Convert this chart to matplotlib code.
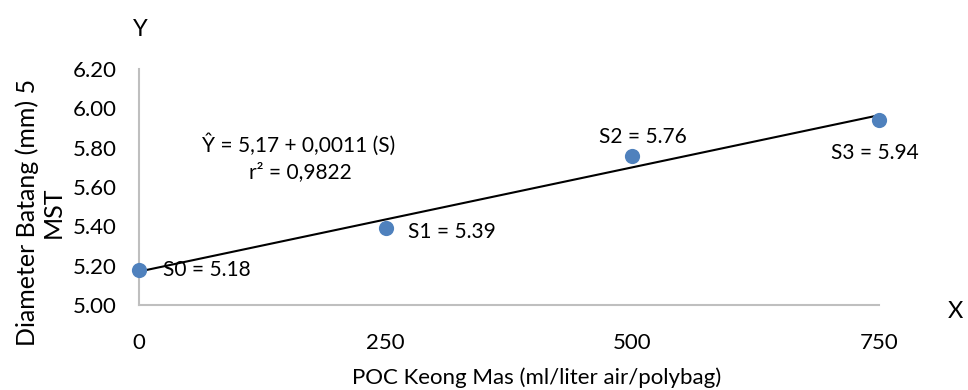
import numpy as np
import matplotlib
matplotlib.use("Agg")
import matplotlib.pyplot as plt

# --- data ---
dose = [0, 250, 500, 750]                 # POC Keong Mas, ml/liter air/polybag
diameter = [5.18, 5.39, 5.76, 5.94]       # Diameter batang (mm) 5 MST
point_names = ["S0", "S1", "S2", "S3"]
y_ticks = [5.00, 5.20, 5.40, 5.60, 5.80, 6.00, 6.20]
x_ticks = [0, 250, 500, 750]

# label offsets (pixels) relative to each point
label_offsets = [(24, 0), (22, -4), (11, 19), (-4, -33)]
label_ha = ["left", "left", "center", "center"]

plt.rcParams["font.family"] = ["Lato", "DejaVu Sans"]
W, H = 968, 390
fig = plt.figure(figsize=(W / 100, H / 100), dpi=100)

def fx(px):
    return px / W

def fy(py):
    return 1 - py / H

ax = fig.add_axes([fx(139), fy(305), fx(879) - fx(139), fy(69) - fy(305)])

# linear fit, as in the chart's trend line
slope, intercept = np.polyfit(dose, diameter, 1)
xs = np.array([min(dose), max(dose)])
ax.plot(xs, intercept + slope * xs, color="black", lw=1.5, zorder=3, clip_on=False)

ax.scatter(dose, diameter, s=120, color="#4F81BD", zorder=4, clip_on=False, linewidths=0)

for name, x, y, off, ha in zip(point_names, dose, diameter, label_offsets, label_ha):
    ax.annotate(f"{name} = {y:.2f}", (x, y), xytext=(off[0] * 0.72, off[1] * 0.72),
                textcoords="offset points", ha=ha, va="center", fontsize=15, zorder=5)

ax.set_xlim(0, 750)
ax.set_ylim(5.0, 6.2)
ax.set_xticks(x_ticks)
ax.set_yticks(y_ticks)
ax.set_yticklabels([f"{v:.2f}" for v in y_ticks])
ax.tick_params(length=0, labelsize=16)
ax.tick_params(axis="x", pad=20)
ax.tick_params(axis="y", pad=16)

for s in ["top", "right"]:
    ax.spines[s].set_visible(False)
for s in ["left", "bottom"]:
    ax.spines[s].set_color("#BFBFBF")
    ax.spines[s].set_linewidth(1.5)

# regression equation
fig.text(fx(299), fy(145), "Ŷ = 5,17 + 0,0011 (S)", ha="center", va="center", fontsize=15)
fig.text(fx(300), fy(172), "r² = 0,9822", ha="center", va="center", fontsize=15)

# axis titles
fig.text(fx(537), fy(378), "POC Keong Mas (ml/liter air/polybag)", ha="center", va="center", fontsize=16)
fig.text(fx(40), fy(212), "Diameter Batang (mm) 5\nMST", ha="center", va="center",
         rotation=90, fontsize=18, multialignment="center", linespacing=1.15)
fig.text(fx(140), fy(29), "Y", ha="center", va="center", fontsize=17)
fig.text(fx(955), fy(311), "X", ha="center", va="center", fontsize=17)

fig.savefig("out.png", dpi=100)
